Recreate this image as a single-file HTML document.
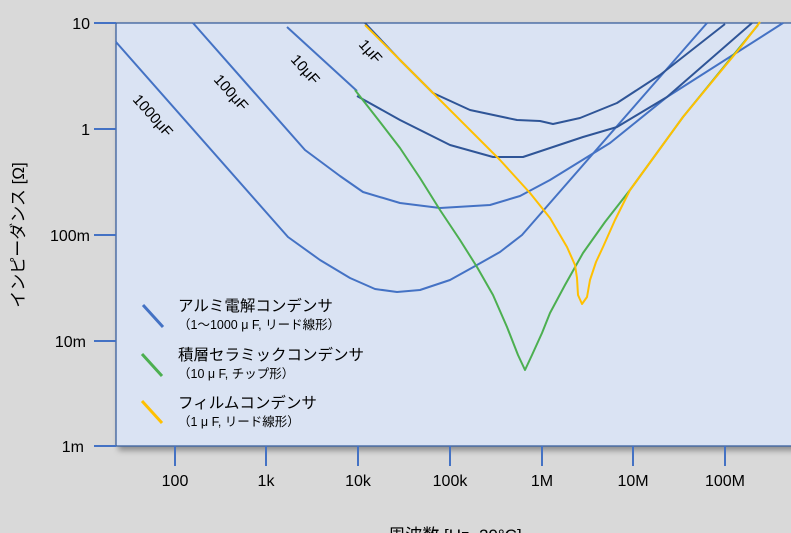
<!DOCTYPE html>
<html><head><meta charset="utf-8"><style>
html,body{margin:0;padding:0;background:#d9d9d9;width:791px;height:533px;overflow:hidden}
svg{display:block}
text{font-family:"Liberation Sans","Noto Sans CJK JP",sans-serif;fill:#000}
</style></head><body>
<svg width="791" height="533" viewBox="0 0 791 533">
<defs><filter id="sh" x="-5%" y="-5%" width="110%" height="115%"><feDropShadow dx="3" dy="4" stdDeviation="3" flood-color="#000" flood-opacity="0.35"/></filter></defs>
<rect x="116" y="23" width="690" height="423" fill="#dae3f3" stroke="#2f5597" stroke-width="1.2" filter="url(#sh)"/>
<g stroke="#4472c4" stroke-width="2">
<line x1="94" y1="23" x2="116" y2="23"/><line x1="94" y1="129" x2="116" y2="129"/><line x1="94" y1="235" x2="116" y2="235"/><line x1="94" y1="341" x2="116" y2="341"/><line x1="94" y1="446" x2="116" y2="446"/>
<line x1="175" y1="446" x2="175" y2="466"/><line x1="266" y1="446" x2="266" y2="466"/><line x1="358" y1="446" x2="358" y2="466"/><line x1="450" y1="446" x2="450" y2="466"/><line x1="542" y1="446" x2="542" y2="466"/><line x1="633" y1="446" x2="633" y2="466"/><line x1="725" y1="446" x2="725" y2="466"/>
</g>
<g font-size="16" text-anchor="end">
<text x="90" y="29">10</text><text x="90" y="135">1</text><text x="90" y="241">100m</text><text x="86" y="347">10m</text><text x="84" y="452">1m</text>
</g>
<g font-size="16" text-anchor="middle">
<text x="175" y="486">100</text><text x="266" y="486">1k</text><text x="358" y="486">10k</text><text x="450" y="486">100k</text><text x="542" y="486">1M</text><text x="633" y="486">10M</text><text x="725" y="486">100M</text>
</g>
<text x="455" y="541" font-size="17" text-anchor="middle">周波数 [Hz, 20°C]</text>
<text transform="translate(24,235) rotate(-90)" font-size="17" text-anchor="middle">インピーダンス [Ω]</text>
<g fill="none" stroke-width="2" stroke-linejoin="round">
<polyline stroke="#4472c4" points="116,42 288,237 320,260 350,278 375,289 397,292 420,290 450,280 477,265 500,252 522,235 707,23"/>
<polyline stroke="#4472c4" points="193,23 305,150 340,176 363,192 400,203 440,208 490,205 520,196 550,180 610,143 667,97 783,23"/>
<polyline stroke="#4472c4" points="287,27 357,91"/>
<polyline stroke="#2f5597" points="357,96 400,120 450,145 493,157 523,157 583,137 617,127 667,97 752,23"/>
<polyline stroke="#2f5597" points="365,23 400,60 433,93 470,110 517,120 540,121 553,124 580,118 617,103 660,75 725,24"/>
<polyline stroke="#4caf50" points="355,90 380,122 400,148 420,178 440,210 460,240 477,267 493,295 507,327 518,355 525,370 532,355 542,333 550,313 565,285 583,253 605,222 630,190 683,117 740,47 758,25"/>
<polyline stroke="#ffc000" points="365,25 400,60 433,93 470,130 500,160 530,193 550,218 567,247 575,265 577,278 578,295 582,304 587,297 590,280 596,262 603,247 615,220 630,190 683,117 740,48 760,22"/>
</g>
<g font-size="15">
<text transform="translate(132,100) rotate(48)">1000μF</text>
<text transform="translate(213,80) rotate(48)">100μF</text>
<text transform="translate(290,60) rotate(48)">10μF</text>
<text transform="translate(358,45) rotate(48)">1μF</text>
</g>
<g stroke-width="3">
<line x1="143" y1="305" x2="163" y2="327" stroke="#4472c4"/>
<line x1="142" y1="354" x2="162" y2="376" stroke="#4caf50"/>
<line x1="142" y1="401" x2="162" y2="423" stroke="#ffc000"/>
</g>
<text x="178" y="311" font-size="15.5">アルミ電解コンデンサ</text>
<text x="178" y="329" font-size="12.5">（1～1000 μ F, リード線形）</text>
<text x="178" y="360" font-size="15.5">積層セラミックコンデンサ</text>
<text x="178" y="378" font-size="12.5">（10 μ F, チップ形）</text>
<text x="178" y="408" font-size="15.5">フィルムコンデンサ</text>
<text x="178" y="426" font-size="12.5">（1 μ F, リード線形）</text>
</svg>
</body></html>
